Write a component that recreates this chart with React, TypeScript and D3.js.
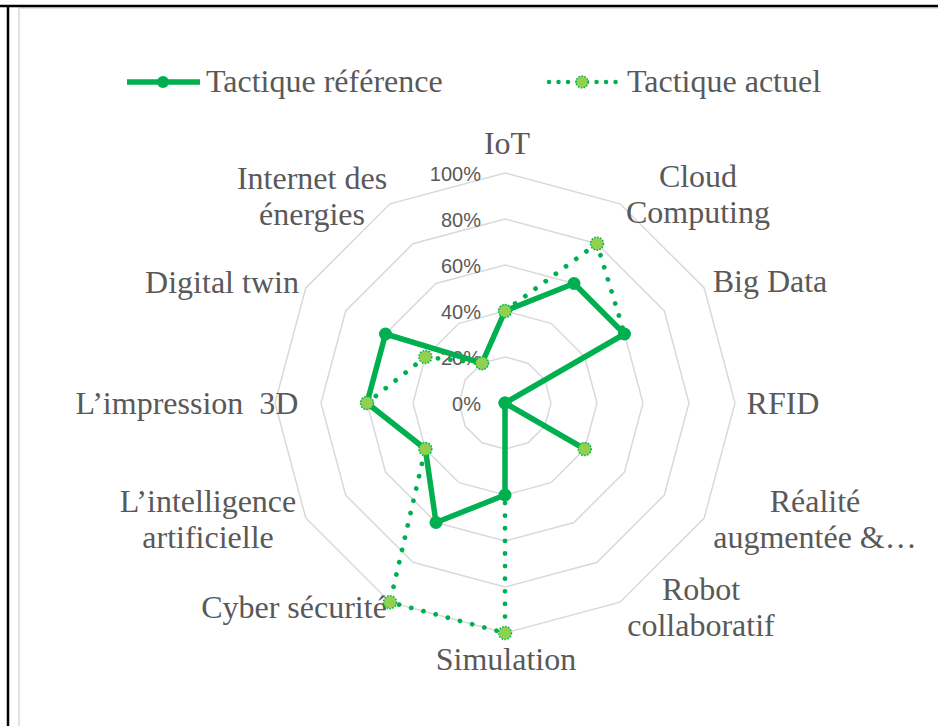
import React from "react";
import * as d3 from "d3";

const categories = [
  ["IoT"],
  ["Cloud", "Computing"],
  ["Big Data"],
  ["RFID"],
  ["Réalité", "augmentée &…"],
  ["Robot", "collaboratif"],
  ["Simulation"],
  ["Cyber sécurité"],
  ["L’intelligence", "artificielle"],
  ["L’impression  3D"],
  ["Digital twin"],
  ["Internet des", "énergies"],
];
const categoryKeys = categories.map((c) => c.join(" "));

const reference = [40, 60, 60, 0, 40, 0, 40, 60, 40, 60, 60, 20];
const actuel = [40, 80, 60, 0, 40, 0, 100, 100, 40, 60, 40, 20];
const actuelMarkerHidden = ["Big Data", "RFID", "Robot collaboratif"];

const ticks = [0, 20, 40, 60, 80, 100];
const seriesNames = ["Tactique référence", "Tactique actuel"];

// layout (label block: center x offset, first baseline offset from chart center)
const labelLayout: [number, number][] = [
  [2, -249],
  [193, -216],
  [265, -111],
  [278, 11],
  [310, 109],
  [196, 197],
  [1, 267],
  [-211, 215],
  [-297, 109],
  [-318, 11],
  [-283, -110],
  [-193, -214],
];

const W = 938;
const H = 726;
const cx = 505;
const cy = 403;
const R = 230;
const GREEN = "#00B050";
const LIGHT = "#92D050";
const TEXT = "#595959";
const SERIF = "'Liberation Serif', 'Times New Roman', serif";
const SANS = "'Liberation Sans', Arial, sans-serif";

export default function App() {
  const n = categories.length;
  const r = d3.scaleLinear().domain([0, 100]).range([0, R]);
  const angle = (i: number) => (i * 2 * Math.PI) / n;
  const px = (i: number, v: number) => cx + Math.sin(angle(i)) * r(v);
  const py = (i: number, v: number) => cy - Math.cos(angle(i)) * r(v);

  const radial = d3
    .lineRadial<number>()
    .angle((_, i) => angle(i))
    .radius((v) => r(v))
    .curve(d3.curveLinearClosed);

  const ringPath = (t: number) => radial(categories.map(() => t)) as string;

  return (
    <svg
      width={W}
      height={H}
      style={{ position: "absolute", left: 0, top: 0, background: "#fff" }}
    >
      <rect x={0} y={0} width={W} height={H} fill="#fff" />
      {/* borders */}
      <line x1={19} y1={8} x2={19} y2={H} stroke="#D9D9D9" strokeWidth={1.5} />
      <line x1={19} y1={8} x2={W} y2={8} stroke="#D9D9D9" strokeWidth={1.5} />
      <line x1={0} y1={6} x2={W} y2={6} stroke="#000" strokeWidth={2.5} />
      <line x1={8} y1={6} x2={8} y2={H} stroke="#000" strokeWidth={2.5} />

      {/* legend */}
      <g>
        <line x1={127} y1={82} x2={200} y2={82} stroke={GREEN} strokeWidth={5.5} />
        <circle cx={163} cy={82} r={6} fill={GREEN} />
        <text x={206} y={92} fontFamily={SERIF} fontSize={32} fill={TEXT}>
          {seriesNames[0]}
        </text>
        <line
          x1={549}
          y1={82}
          x2={617}
          y2={82}
          stroke={GREEN}
          strokeWidth={4.5}
          strokeDasharray="0.01 9.5"
          strokeLinecap="round"
        />
        <circle
          cx={582}
          cy={82}
          r={6}
          fill={LIGHT}
          stroke={GREEN}
          strokeWidth={1.5}
          strokeDasharray="1.5 1.5"
        />
        <text x={627} y={92} fontFamily={SERIF} fontSize={32} fill={TEXT}>
          {seriesNames[1]}
        </text>
      </g>

      <g transform={`translate(${cx},${cy})`}>
        {ticks.slice(1).map((t) => (
          <path key={t} d={ringPath(t)} fill="none" stroke="#D9D9D9" strokeWidth={1.5} />
        ))}
      </g>

      {/* tick labels */}
      {ticks.map((t) => (
        <text
          key={t}
          x={cx - 24}
          y={cy - r(t) + 7.5}
          textAnchor="end"
          fontFamily={SANS}
          fontSize={20}
          fill={TEXT}
        >
          {`${t}%`}
        </text>
      ))}

      {/* category labels */}
      {categories.map((lines, i) => (
        <text
          key={categoryKeys[i]}
          x={cx + labelLayout[i][0]}
          y={cy + labelLayout[i][1]}
          textAnchor="middle"
          fontFamily={SERIF}
          fontSize={32}
          fill={TEXT}
          style={{ whiteSpace: "pre" }}
        >
          {lines.map((l, j) => (
            <tspan key={j} x={cx + labelLayout[i][0]} dy={j === 0 ? 0 : 36}>
              {l}
            </tspan>
          ))}
        </text>
      ))}

      {/* reference series */}
      <g transform={`translate(${cx},${cy})`}>
        <path
          d={radial(reference) as string}
          fill="none"
          stroke={GREEN}
          strokeWidth={5.5}
          strokeLinejoin="round"
        />
      </g>
      {reference.map((v, i) => (
        <circle key={"r" + i} cx={px(i, v)} cy={py(i, v)} r={6.5} fill={GREEN} />
      ))}

      {/* actuel series */}
      <g transform={`translate(${cx},${cy})`}>
        <path
          d={radial(actuel) as string}
          fill="none"
          stroke={GREEN}
          strokeWidth={4.8}
          strokeDasharray="0.01 12.6"
          strokeLinecap="round"
        />
      </g>
      {actuel.map((v, i) =>
        actuelMarkerHidden.includes(categoryKeys[i]) ? null : (
          <circle
            key={"a" + i}
            cx={px(i, v)}
            cy={py(i, v)}
            r={6.5}
            fill={LIGHT}
            stroke={GREEN}
            strokeWidth={1.5}
            strokeDasharray="1.5 1.5"
          />
        )
      )}
    </svg>
  );
}
